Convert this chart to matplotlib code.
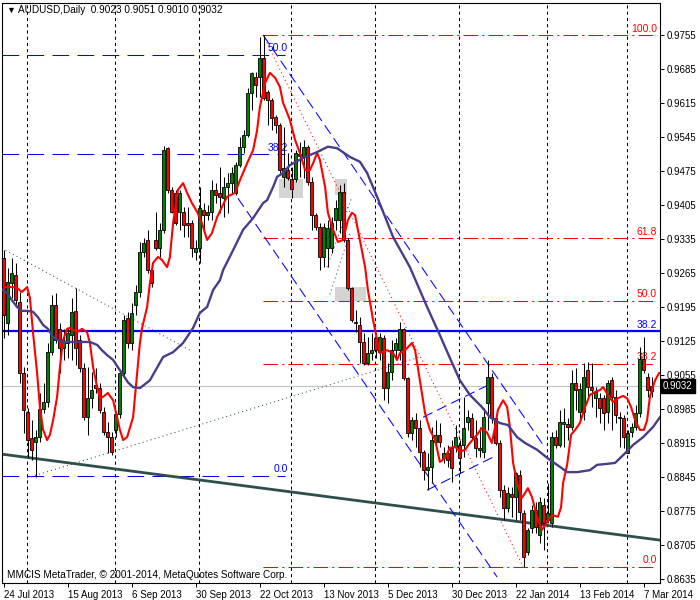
import matplotlib
matplotlib.use('Agg')
import matplotlib.pyplot as plt
from matplotlib.patches import Rectangle

plt.rcParams['font.family'] = ['Liberation Sans', 'DejaVu Sans']

# AUDUSD daily bars, index 0 = 24 Jul 2013
opens = [
    0.9296, 0.9162, 0.9244, 0.9261, 0.9205, 0.9059, 0.8978, 0.8925, 0.8917, 0.8927,
    0.8985, 0.8999, 0.9102, 0.9199, 0.9150, 0.9111, 0.9121, 0.9137, 0.9187, 0.9127,
    0.9069, 0.8968, 0.9007, 0.9034, 0.9028, 0.8978, 0.8938, 0.8927, 0.8942, 0.8974,
    0.9059, 0.9172, 0.9121, 0.9199, 0.9226, 0.9308, 0.9333, 0.9271, 0.9333, 0.9316,
    0.9354, 0.9522, 0.9436, 0.9430, 0.9391, 0.9391, 0.9368, 0.9368, 0.9308, 0.9316,
    0.9395, 0.9384, 0.9391, 0.9436, 0.9430, 0.9419, 0.9442, 0.9450, 0.9430, 0.9487,
    0.9525, 0.9549, 0.9636, 0.9669, 0.9669, 0.9708, 0.9638, 0.9621, 0.9586, 0.9570,
    0.9463, 0.9477, 0.9458, 0.9458, 0.9506, 0.9506, 0.9525, 0.9452, 0.9384, 0.9360,
    0.9298, 0.9316, 0.9316, 0.9374, 0.9374, 0.9432, 0.9333, 0.9234, 0.9164, 0.9158,
    0.9123, 0.9080, 0.9100, 0.9131, 0.9102, 0.9131, 0.9028, 0.9061, 0.9106, 0.9106,
    0.9150, 0.9049, 0.8936, 0.8962, 0.8946, 0.8897, 0.8859, 0.8866, 0.8917, 0.8932,
    0.8884, 0.8894, 0.8905, 0.8907, 0.8911, 0.8911, 0.8958, 0.8966, 0.8925, 0.8901,
    0.8897, 0.8997, 0.9051, 0.8966, 0.8915, 0.8818, 0.8781, 0.8810, 0.8804, 0.8849,
    0.8771, 0.8691, 0.8740, 0.8777, 0.8726, 0.8787, 0.8756, 0.8750, 0.8927, 0.8911,
    0.8954, 0.8954, 0.8948, 0.9038, 0.8978, 0.8978, 0.9065, 0.9030, 0.9007, 0.9007,
    0.9007, 0.8978, 0.9044, 0.9010, 0.8968, 0.8966, 0.8894, 0.8938, 0.8948, 0.8976,
    0.9088, 0.9051, 0.9023]
highs = [
    0.9312, 0.9275, 0.9296, 0.9286, 0.9226, 0.9071, 0.8987, 0.8962, 0.8942, 0.9018,
    0.9038, 0.9121, 0.9220, 0.9224, 0.9162, 0.9150, 0.9152, 0.9214, 0.9234, 0.9137,
    0.9080, 0.9071, 0.9061, 0.9069, 0.9038, 0.8989, 0.8958, 0.8938, 0.8978, 0.9065,
    0.9179, 0.9185, 0.9203, 0.9240, 0.9329, 0.9337, 0.9354, 0.9286, 0.9391, 0.9368,
    0.9527, 0.9525, 0.9442, 0.9436, 0.9436, 0.9401, 0.9401, 0.9374, 0.9333, 0.9442,
    0.9409, 0.9405, 0.9456, 0.9450, 0.9483, 0.9463, 0.9471, 0.9483, 0.9494, 0.9545,
    0.9559, 0.9646, 0.9679, 0.9679, 0.9751, 0.9755, 0.9642, 0.9625, 0.9590, 0.9574,
    0.9566, 0.9512, 0.9483, 0.9518, 0.9535, 0.9539, 0.9529, 0.9463, 0.9389, 0.9368,
    0.9368, 0.9374, 0.9380, 0.9415, 0.9446, 0.9450, 0.9337, 0.9236, 0.9189, 0.9174,
    0.9141, 0.9133, 0.9141, 0.9141, 0.9141, 0.9137, 0.9080, 0.9127, 0.9131, 0.9164,
    0.9152, 0.9051, 0.8968, 0.8976, 0.8962, 0.8901, 0.8894, 0.8948, 0.8962, 0.8956,
    0.8907, 0.8911, 0.8921, 0.8952, 0.8921, 0.9010, 0.8983, 0.8976, 0.8962, 0.8948,
    0.8987, 0.9086, 0.9059, 0.8972, 0.8921, 0.8829, 0.8824, 0.8824, 0.8855, 0.8859,
    0.8777, 0.8740, 0.8787, 0.8793, 0.8804, 0.8802, 0.8833, 0.8938, 0.8942, 0.8983,
    0.8987, 0.8966, 0.9065, 0.9069, 0.9038, 0.9080, 0.9082, 0.9080, 0.9030, 0.9018,
    0.9014, 0.9044, 0.9051, 0.9024, 0.8978, 0.8972, 0.8942, 0.8956, 0.8993, 0.9113,
    0.9133, 0.9059, 0.9051]
lows = [
    0.9131, 0.9137, 0.9214, 0.9199, 0.9038, 0.8936, 0.8886, 0.8880, 0.8845, 0.8917,
    0.8976, 0.8989, 0.9096, 0.9121, 0.9059, 0.9086, 0.9090, 0.9086, 0.9075, 0.9061,
    0.8962, 0.8932, 0.8987, 0.9018, 0.8976, 0.8932, 0.8894, 0.8890, 0.8927, 0.8966,
    0.9049, 0.9111, 0.9106, 0.9179, 0.9216, 0.9298, 0.9265, 0.9236, 0.9312, 0.9298,
    0.9347, 0.9430, 0.9389, 0.9364, 0.9354, 0.9339, 0.9339, 0.9298, 0.9292, 0.9286,
    0.9354, 0.9374, 0.9374, 0.9409, 0.9389, 0.9380, 0.9389, 0.9430, 0.9426, 0.9483,
    0.9512, 0.9545, 0.9601, 0.9627, 0.9627, 0.9621, 0.9570, 0.9559, 0.9553, 0.9471,
    0.9442, 0.9456, 0.9419, 0.9452, 0.9463, 0.9461, 0.9446, 0.9354, 0.9354, 0.9271,
    0.9277, 0.9277, 0.9306, 0.9354, 0.9347, 0.9329, 0.9230, 0.9164, 0.9143, 0.9080,
    0.9075, 0.9075, 0.9086, 0.9090, 0.9086, 0.9003, 0.8997, 0.9044, 0.9086, 0.9086,
    0.9044, 0.8927, 0.8921, 0.8907, 0.8866, 0.8839, 0.8818, 0.8833, 0.8907, 0.8907,
    0.8874, 0.8866, 0.8835, 0.8897, 0.8853, 0.8886, 0.8942, 0.8921, 0.8886, 0.8886,
    0.8884, 0.8942, 0.8956, 0.8911, 0.8804, 0.8756, 0.8773, 0.8763, 0.8756, 0.8756,
    0.8660, 0.8684, 0.8730, 0.8730, 0.8709, 0.8695, 0.8750, 0.8742, 0.8905, 0.8907,
    0.8907, 0.8921, 0.8942, 0.8983, 0.8962, 0.8962, 0.9010, 0.8989, 0.8968, 0.8956,
    0.8942, 0.8956, 0.8942, 0.8956, 0.8907, 0.8905, 0.8894, 0.8927, 0.8942, 0.8968,
    0.9059, 0.9010, 0.9010]
closes = [
    0.9179, 0.9247, 0.9265, 0.9209, 0.9059, 0.8983, 0.8921, 0.8901, 0.8927, 0.8985,
    0.8999, 0.9102, 0.9199, 0.9127, 0.9111, 0.9123, 0.9141, 0.9185, 0.9111, 0.9069,
    0.8968, 0.9007, 0.9024, 0.9028, 0.8983, 0.8938, 0.8927, 0.8897, 0.8974, 0.9059,
    0.9168, 0.9121, 0.9183, 0.9226, 0.9308, 0.9327, 0.9271, 0.9244, 0.9316, 0.9354,
    0.9518, 0.9436, 0.9391, 0.9368, 0.9430, 0.9364, 0.9364, 0.9316, 0.9316, 0.9399,
    0.9384, 0.9391, 0.9436, 0.9426, 0.9422, 0.9442, 0.9450, 0.9471, 0.9487, 0.9525,
    0.9549, 0.9636, 0.9677, 0.9652, 0.9708, 0.9625, 0.9621, 0.9584, 0.9570, 0.9477,
    0.9481, 0.9461, 0.9438, 0.9512, 0.9510, 0.9525, 0.9452, 0.9384, 0.9360, 0.9298,
    0.9360, 0.9358, 0.9368, 0.9399, 0.9432, 0.9333, 0.9234, 0.9168, 0.9162, 0.9123,
    0.9080, 0.9100, 0.9106, 0.9106, 0.9133, 0.9028, 0.9061, 0.9106, 0.9121, 0.9150,
    0.9049, 0.8936, 0.8962, 0.8946, 0.8897, 0.8859, 0.8866, 0.8921, 0.8932, 0.8917,
    0.8894, 0.8880, 0.8864, 0.8927, 0.8884, 0.8946, 0.8968, 0.8927, 0.8905, 0.8905,
    0.8968, 0.9051, 0.8966, 0.8915, 0.8818, 0.8781, 0.8812, 0.8804, 0.8853, 0.8773,
    0.8680, 0.8736, 0.8777, 0.8742, 0.8793, 0.8750, 0.8771, 0.8927, 0.8911, 0.8958,
    0.8958, 0.8948, 0.9038, 0.9024, 0.9026, 0.9051, 0.9030, 0.9024, 0.9020, 0.8987,
    0.8976, 0.9038, 0.9010, 0.8972, 0.8966, 0.8927, 0.8936, 0.8948, 0.8976, 0.9088,
    0.9065, 0.9024, 0.9032]

# fast moving average (red), sampled along the drawn line
fast_ma_x = [
    0.4, 2.1, 3.4, 4.6, 5.9, 6.6, 7.4, 8.4, 9.1, 9.9,
    10.9, 11.6, 12.4, 13.4, 14.1, 14.9, 15.9, 16.6, 18.4, 19.6,
    20.9, 21.6, 22.4, 23.4, 24.1, 24.9, 26.1, 27.4, 28.4, 29.1,
    29.9, 30.9, 32.4, 34.1, 34.6, 35.9, 36.6, 37.4, 38.6, 39.6,
    40.9, 41.6, 42.4, 43.6, 44.9, 45.9, 47.1, 48.4, 49.6, 50.9,
    52.1, 53.4, 54.6, 55.9, 57.9, 59.1, 60.9, 62.4, 63.4, 64.1,
    65.4, 66.6, 67.9, 69.1, 69.9, 70.9, 71.6, 72.9, 74.1, 75.4,
    76.6, 77.4, 78.4, 79.1, 80.4, 81.1, 82.4, 83.6, 84.9, 86.1,
    87.1, 87.9, 89.1, 90.4, 91.1, 92.4, 93.4, 94.1, 95.9, 97.4,
    98.4, 99.1, 100.4, 102.1, 102.9, 104.1, 105.4, 106.6, 107.9, 109.1,
    110.4, 111.6, 112.9, 114.1, 115.4, 116.6, 118.4, 119.6, 120.9, 122.1,
    122.9, 123.6, 124.9, 125.9, 126.6, 127.4, 128.4, 129.6, 130.4, 131.1,
    132.1, 133.4, 134.6, 135.9, 137.1, 138.6, 139.4, 139.9, 140.9, 141.9,
    142.9, 144.1, 145.4, 146.6, 147.9, 149.1, 149.9, 151.1, 152.4, 153.6,
    154.9, 155.9, 156.9, 157.9, 159.1, 160.1, 160.9, 161.6, 162.9, 163.9]
fast_ma = [
    0.9236, 0.9236, 0.9234, 0.9226, 0.9236, 0.9214, 0.9141, 0.9059, 0.8989, 0.8942,
    0.8921, 0.8932, 0.8962, 0.9010, 0.9071, 0.9127, 0.9150, 0.9152, 0.9143, 0.9150,
    0.9143, 0.9121, 0.9071, 0.9030, 0.9007, 0.9010, 0.9018, 0.9003, 0.8968, 0.8942,
    0.8921, 0.8927, 0.8968, 0.9121, 0.9150, 0.9195, 0.9244, 0.9286, 0.9298, 0.9292,
    0.9277, 0.9298, 0.9368, 0.9436, 0.9450, 0.9430, 0.9409, 0.9391, 0.9368, 0.9333,
    0.9347, 0.9380, 0.9401, 0.9422, 0.9430, 0.9456, 0.9491, 0.9518, 0.9559, 0.9607,
    0.9656, 0.9677, 0.9667, 0.9648, 0.9615, 0.9595, 0.9580, 0.9539, 0.9512, 0.9477,
    0.9477, 0.9491, 0.9512, 0.9498, 0.9442, 0.9389, 0.9354, 0.9329, 0.9333, 0.9374,
    0.9389, 0.9384, 0.9333, 0.9277, 0.9230, 0.9168, 0.9127, 0.9100, 0.9106, 0.9100,
    0.9086, 0.9100, 0.9106, 0.9121, 0.9106, 0.9044, 0.8976, 0.8942, 0.8921, 0.8876,
    0.8884, 0.8905, 0.8907, 0.8897, 0.8901, 0.8915, 0.8932, 0.8946, 0.8936, 0.8915,
    0.8948, 0.8983, 0.9003, 0.8989, 0.8948, 0.8874, 0.8833, 0.8802, 0.8812, 0.8822,
    0.8804, 0.8763, 0.8736, 0.8752, 0.8767, 0.8763, 0.8783, 0.8833, 0.8870, 0.8932,
    0.8942, 0.8956, 0.8989, 0.9014, 0.9020, 0.9024, 0.9030, 0.9014, 0.8999, 0.9007,
    0.9012, 0.9007, 0.8989, 0.8962, 0.8942, 0.8942, 0.8962, 0.9010, 0.9044, 0.9059]

# slow moving average (dark slate blue)
slow_ma_x = [
    -0.1, 0.9, 2.1, 3.4, 4.6, 5.9, 7.4, 8.6, 9.9, 11.1,
    12.4, 13.6, 14.9, 16.6, 18.4, 19.9, 21.6, 23.4, 24.6, 25.9,
    27.4, 28.6, 29.9, 31.1, 32.4, 34.1, 36.6, 39.9, 42.4, 44.9,
    47.4, 49.1, 50.9, 52.4, 54.1, 54.9, 57.4, 59.9, 62.4, 64.9,
    65.9, 67.4, 68.4, 69.9, 71.6, 74.9, 78.4, 81.1, 83.4, 86.6,
    89.1, 90.9, 93.4, 97.4, 101.6, 105.9, 109.1, 111.6, 114.1, 116.6,
    119.6, 121.6, 124.1, 126.1, 128.4, 130.4, 133.4, 136.6, 139.1, 140.9,
    143.4, 146.6, 148.4, 150.9, 152.9, 155.4, 157.4, 159.9, 162.4, 164.1]
slow_ma = [
    0.9230, 0.9224, 0.9209, 0.9195, 0.9187, 0.9187, 0.9185, 0.9174, 0.9158, 0.9150,
    0.9133, 0.9127, 0.9123, 0.9123, 0.9123, 0.9123, 0.9123, 0.9117, 0.9106, 0.9096,
    0.9086, 0.9071, 0.9055, 0.9040, 0.9030, 0.9028, 0.9044, 0.9092, 0.9102, 0.9121,
    0.9152, 0.9183, 0.9195, 0.9230, 0.9250, 0.9271, 0.9312, 0.9354, 0.9378, 0.9409,
    0.9415, 0.9442, 0.9463, 0.9471, 0.9487, 0.9502, 0.9514, 0.9525, 0.9522, 0.9504,
    0.9494, 0.9471, 0.9422, 0.9339, 0.9277, 0.9195, 0.9137, 0.9090, 0.9044, 0.9014,
    0.8989, 0.8968, 0.8956, 0.8952, 0.8927, 0.8915, 0.8901, 0.8880, 0.8866, 0.8855,
    0.8855, 0.8859, 0.8870, 0.8872, 0.8874, 0.8894, 0.8911, 0.8927, 0.8948, 0.8968]

x_ticks = [0, 16, 32, 48, 64, 80, 96, 112, 128, 144, 160]
x_labels = ['24 Jul 2013', '15 Aug 2013', '6 Sep 2013', '30 Sep 2013', '22 Oct 2013',
            '13 Nov 2013', '5 Dec 2013', '30 Dec 2013', '22 Jan 2014', '13 Feb 2014',
            '7 Mar 2014']
y_ticks = [0.8635, 0.8705, 0.8775, 0.8845, 0.8915, 0.8985, 0.9055, 0.9125, 0.9195,
           0.9265, 0.9335, 0.9405, 0.9475, 0.9545, 0.9615, 0.9685, 0.9755]
month_starts = [6, 28, 49, 72, 93, 114, 136, 156]

# objects drawn on the chart
red_fib_low, red_fib_high = 0.8660, 0.9755
red_fib_levels = [100.0, 61.8, 50.0, 38.2, 0.0]
blue_fib_zero, blue_fib_hundred = 0.8848, 1.0580
blue_fib_levels = [50.0, 38.2, 0.0]
blue_level = 0.9145
last_price = 0.9032
support_line = ([-0.4, 164.1], [0.8892, 0.8715])
dotted_lines = [([-0.4, 46.6], [0.9316, 0.9106]),
                ([5.9, 104.1], [0.8843, 0.9092]),
                ([80.9, 87.1], [0.9277, 0.9421]),
                ([81.6, 86.6], [0.9221, 0.9348])]
fib_ray = ([64.9, 129.9], [0.9755, 0.8660])
channel_lines = [([64.9, 135.4], [0.9755, 0.8905]),
                 ([58.6, 123.4], [0.9419, 0.8639]),
                 ([104.9, 121.1], [0.8968, 0.9034]),
                 ([105.9, 122.4], [0.8818, 0.8886])]
gray_boxes = [(68.9, 74.9, 0.9419, 0.9458),
              (82.9, 85.9, 0.9426, 0.9458),
              (82.9, 90.6, 0.9207, 0.9236)]

fig = plt.figure(figsize=(7, 6), dpi=100)
ax = fig.add_axes([2 / 700, 17 / 600, 658 / 700, 580 / 600])
ax.set_xlim(-0.375, 164.125)
ax.set_ylim(0.86267, 0.98209)

for m in month_starts:
    ax.axvline(m - 0.1, color='black', lw=0.75, ls=(0, (3, 3)), zorder=1)

for x0, x1, y0, y1 in gray_boxes:
    ax.add_patch(Rectangle((x0, y0), x1 - x0, y1 - y0, facecolor='#d4d4d4',
                           edgecolor='none', zorder=1))

# red fibonacci retracement
for lev in red_fib_levels:
    p = red_fib_low + lev / 100 * (red_fib_high - red_fib_low)
    ax.plot([64.9, 162.9], [p, p], color='red', lw=0.75, ls=(0, (14, 4, 2, 4)), zorder=2)
    ax.text(163.4, p + 0.0003, f'{lev:.1f}', color='red', fontsize=7.5,
            ha='right', va='bottom', zorder=2)
ax.plot(*fib_ray, color='red', lw=0.75, ls=(0, (1, 3)), zorder=2)

# blue fibonacci on the left
for lev in blue_fib_levels:
    p = blue_fib_zero + lev / 100 * (blue_fib_hundred - blue_fib_zero)
    ax.plot([-0.4, 70.4], [p, p], color='#0000ff', lw=0.75, ls=(0, (16, 8)), zorder=2)
    ax.text(71.1, p + 0.0003, f'{lev:.1f}', color='#0000ff', fontsize=7.5,
            ha='right', va='bottom', zorder=2)

ax.axhline(blue_level, color='#0000ff', lw=1.6, zorder=2)
ax.text(163.4, blue_level + 0.0003, '38.2', color='#0000ff', fontsize=7.5,
        ha='right', va='bottom', zorder=2)
ax.axhline(last_price, color='#c0c0c0', lw=0.8, zorder=1.5)

ax.plot(*support_line, color='#2f4f4f', lw=2.0, zorder=2)
for xs, ys in dotted_lines:
    ax.plot(xs, ys, color='#2f4f4f', lw=0.75, ls=(0, (1, 3)), zorder=2)
for xs, ys in channel_lines:
    ax.plot(xs, ys, color='#0000ff', lw=0.75, ls=(0, (10, 5)), zorder=2)

# candles
idx = list(range(len(closes)))
ax.vlines(idx, lows, highs, color='black', lw=0.75, zorder=3)
bottoms = [min(o, c) for o, c in zip(opens, closes)]
heights = [max(abs(c - o), 0.00012) for o, c in zip(opens, closes)]
colors = ['#008000' if c >= o else '#ff0000' for o, c in zip(opens, closes)]
ax.bar(idx, heights, bottom=bottoms, width=0.62, color=colors, edgecolor='black',
       linewidth=0.6, zorder=3.5)

ax.plot(fast_ma_x, fast_ma, color='#ff0000', lw=1.5, zorder=4)
ax.plot(slow_ma_x, slow_ma, color='#483d8b', lw=1.7, zorder=4)

# axes styling
for s in ax.spines.values():
    s.set_color('black')
    s.set_linewidth(0.8)
ax.yaxis.tick_right()
ax.set_yticks(y_ticks, [f'{v:.4f}' for v in y_ticks])
ax.set_xticks(x_ticks, x_labels)
for lbl in ax.get_xticklabels():
    lbl.set_horizontalalignment('left')
ax.tick_params(axis='y', length=3, width=0.7, pad=2, labelsize=7, colors='black')
ax.tick_params(axis='x', length=3, width=0.7, pad=2, labelsize=7, colors='black')

# current price marker
fig.text(663 / 700, 1 - 386 / 600, '0.9032', color='white', fontsize=7,
         va='center', ha='left',
         bbox=dict(boxstyle='square,pad=0.2', fc='black', ec='black'))

fig.text(6 / 700, 1 - 10 / 600, '\u25bc', fontsize=6.5, va='center', ha='left')
fig.text(18 / 700, 1 - 10 / 600, 'AUDUSD,Daily  0.9023 0.9051 0.9010 0.9032',
         fontsize=7.2, va='center', ha='left')
fig.text(7 / 700, 1 - 575 / 600,
         'MMCIS MetaTrader, \u00a9 2001-2014, MetaQuotes Software Corp.',
         fontsize=7.2, va='center', ha='left')

fig.savefig('out.png', dpi=100, facecolor='white')
